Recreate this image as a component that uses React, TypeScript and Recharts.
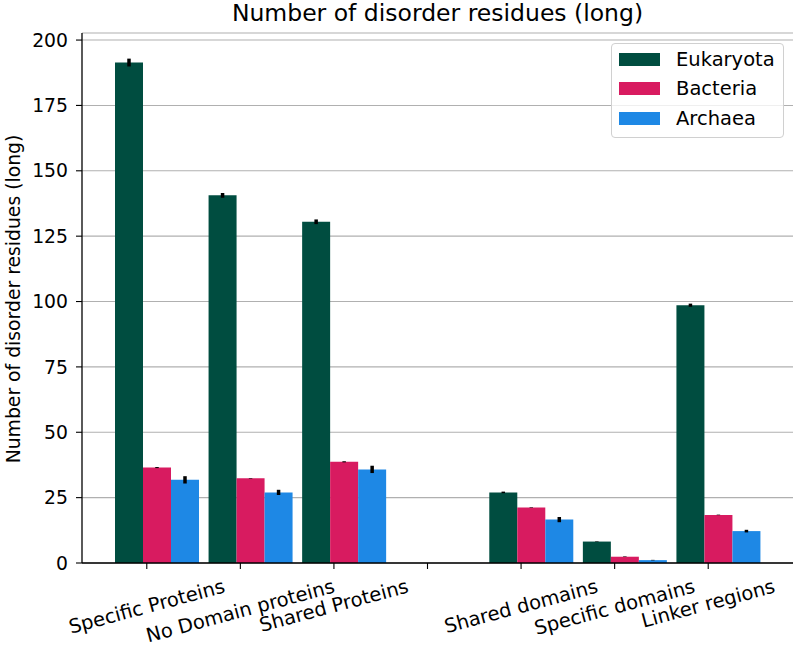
import React from 'react';
import { BarChart, Bar, XAxis, YAxis, CartesianGrid, ErrorBar } from 'recharts';

const categories = ['Specific Proteins', 'No Domain proteins', 'Shared Proteins', '', 'Shared domains', 'Specific domains', 'Linker regions'];
const eukaryota = [191.4, 140.6, 130.5, null, 27.0, 8.2, 98.6];
const eukaryotaErr = [1.5, 0.9, 0.9, null, 0.3, 0.1, 0.6];
const bacteria = [36.5, 32.4, 38.7, null, 21.2, 2.4, 18.4];
const bacteriaErr = [0.2, 0.1, 0.2, null, 0.1, 0.1, 0.1];
const archaea = [31.8, 27.0, 35.8, null, 16.6, 1.1, 12.2];
const archaeaErr = [1.4, 1.0, 1.4, null, 1.0, 0.1, 0.5];
const yTicks = [0, 25, 50, 75, 100, 125, 150, 175, 200];

const series = [
  { key: 'eukaryota', err: 'eukaryotaErr', name: 'Eukaryota', color: '#004D40' },
  { key: 'bacteria', err: 'bacteriaErr', name: 'Bacteria', color: '#D81B60' },
  { key: 'archaea', err: 'archaeaErr', name: 'Archaea', color: '#1E88E5' },
];

const data = categories.map((name, i) => ({
  name,
  eukaryota: eukaryota[i],
  eukaryotaErr: eukaryotaErr[i],
  bacteria: bacteria[i],
  bacteriaErr: bacteriaErr[i],
  archaea: archaea[i],
  archaeaErr: archaeaErr[i],
}));

const FONT = '"DejaVu Sans", sans-serif';
const TICK_FONT = 19.5;
const Y_FONT = 18.8;
const ROT = 15;
const TICK_SHIFT = 10; // matplotlib ticks sit left of the group centre

let ctx: CanvasRenderingContext2D | null = null;
const measure = (text: string) => {
  if (!ctx) ctx = document.createElement('canvas').getContext('2d');
  if (!ctx) return text.length * TICK_FONT * 0.58;
  ctx.font = `${TICK_FONT}px "DejaVu Sans"`;
  return ctx.measureText(text).width;
};

const CategoryTick = ({ x, y, payload }: any) => {
  const tx = x - TICK_SHIFT;
  const label = payload.value as string;
  const rad = (ROT * Math.PI) / 180;
  const L = label ? measure(label) : 0;
  const h = TICK_FONT * 1.164;
  const boxH = L * Math.sin(rad) + h * Math.cos(rad);
  const cy = y + 12 + boxH / 2;
  return (
    <g>
      <line x1={tx} x2={tx} y1={y} y2={y + 6} stroke="#000" strokeWidth={1.1} />
      {label && (
        <text
          x={tx}
          y={cy}
          textAnchor="middle"
          dominantBaseline="central"
          fontSize={TICK_FONT}
          fontFamily={FONT}
          fill="#000"
          transform={`rotate(${-ROT}, ${tx}, ${cy})`}
        >
          {label}
        </text>
      )}
    </g>
  );
};

const YLabel = () => {
  const cy = 299;
  const cx = 13;
  return (
    <text
      x={cx}
      y={cy}
      textAnchor="middle"
      dominantBaseline="central"
      fontSize={Y_FONT}
      fontFamily={FONT}
      fill="#000"
      transform={`rotate(-90, ${cx}, ${cy})`}
    >
      Number of disorder residues (long)
    </text>
  );
};

const App: React.FC = () => {
  return (
    <div style={{ position: 'absolute', left: 0, top: 0, width: 798, height: 646, background: '#fff', fontFamily: FONT }}>
      <div
        style={{
          position: 'absolute',
          left: 82,
          width: 711,
          top: 2,
          textAlign: 'center',
          fontSize: 23.5,
          lineHeight: '23.5px',
          color: '#000',
        }}
      >
        Number of disorder residues (long)
      </div>

      <BarChart
        width={798}
        height={646}
        data={data}
        margin={{ top: 33, right: 5, bottom: 0, left: 0 }}
        barGap={0}
        barSize={28}
        style={{ overflow: 'visible' }}
      >
        <CartesianGrid horizontal vertical={false} stroke="#b0b0b0" strokeWidth={1.1} />
        <XAxis
          dataKey="name"
          height={83}
          padding={{ left: 28, right: 28 }}
          interval={0}
          tickLine={false}
          tickSize={0}
          tickMargin={0}
          tick={<CategoryTick />}
          axisLine={{ stroke: '#000', strokeWidth: 1.3 }}
        />
        <XAxis
          xAxisId="top"
          dataKey="name"
          orientation="top"
          height={0}
          padding={{ left: 28, right: 28 }}
          tick={false}
          tickLine={false}
          axisLine={{ stroke: '#000', strokeWidth: 1.3 }}
        />
        <YAxis
          width={82}
          domain={[0, 202.7]}
          ticks={yTicks}
          interval={0}
          tickSize={6}
          tickMargin={8}
          tickLine={{ stroke: '#000', strokeWidth: 1.1 }}
          axisLine={{ stroke: '#000', strokeWidth: 1.3 }}
          tick={{ fill: '#000', fontSize: Y_FONT, fontFamily: FONT }}
          label={<YLabel />}
        />
        <YAxis
          yAxisId="right"
          orientation="right"
          width={0}
          domain={[0, 202.7]}
          tick={false}
          tickLine={false}
          axisLine={{ stroke: '#000', strokeWidth: 1.3 }}
        />
        {series.map((s) => (
          <Bar key={s.key} dataKey={s.key} name={s.name} fill={s.color} isAnimationActive={false}>
            <ErrorBar dataKey={s.err} width={0} stroke="#000" strokeWidth={3.5} />
          </Bar>
        ))}
      </BarChart>

      {/* legend box, top right */}
      <div
        style={{
          position: 'absolute',
          left: 611,
          top: 43,
          width: 171,
          height: 92,
          border: '1px solid #d0d0d0',
          borderRadius: 4,
          background: 'rgba(255,255,255,0.8)',
          paddingTop: 1,
          boxSizing: 'content-box',
        }}
      >
        {series.map((s) => (
          <div key={s.key} style={{ display: 'flex', alignItems: 'center', height: 29.3 }}>
            <div style={{ width: 41, height: 13, marginLeft: 7, background: s.color }} />
            <span style={{ marginLeft: 16, fontSize: TICK_FONT, color: '#000' }}>{s.name}</span>
          </div>
        ))}
      </div>
    </div>
  );
};

export default App;
